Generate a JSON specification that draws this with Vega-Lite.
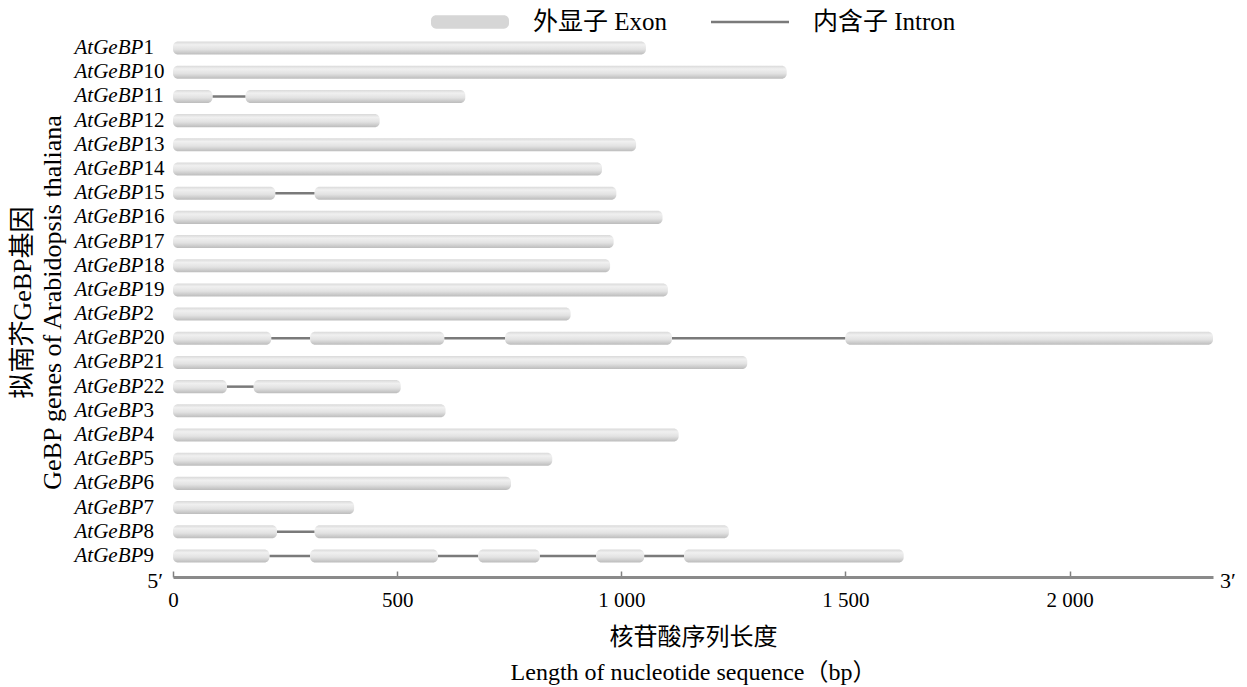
{
  "$schema": "https://vega.github.io/schema/vega-lite/v6.json",
  "width": 1040,
  "height": 550,
  "autosize": {"type": "none"},
  "padding": {"left": 173, "top": 27, "right": 34, "bottom": 110},
  "background": "white",
  "config": {"view": {"stroke": null}},
  "datasets": {
    "segments": [
      {"gene": "AtGeBP1", "type": "exon", "start": 0, "end": 1055},
      {"gene": "AtGeBP10", "type": "exon", "start": 0, "end": 1369},
      {"gene": "AtGeBP11", "type": "exon", "start": 0, "end": 88},
      {"gene": "AtGeBP11", "type": "intron", "start": 88, "end": 162},
      {"gene": "AtGeBP11", "type": "exon", "start": 162, "end": 652},
      {"gene": "AtGeBP12", "type": "exon", "start": 0, "end": 461},
      {"gene": "AtGeBP13", "type": "exon", "start": 0, "end": 1033},
      {"gene": "AtGeBP14", "type": "exon", "start": 0, "end": 957},
      {"gene": "AtGeBP15", "type": "exon", "start": 0, "end": 228},
      {"gene": "AtGeBP15", "type": "intron", "start": 228, "end": 316},
      {"gene": "AtGeBP15", "type": "exon", "start": 316, "end": 989},
      {"gene": "AtGeBP16", "type": "exon", "start": 0, "end": 1092},
      {"gene": "AtGeBP17", "type": "exon", "start": 0, "end": 983},
      {"gene": "AtGeBP18", "type": "exon", "start": 0, "end": 975},
      {"gene": "AtGeBP19", "type": "exon", "start": 0, "end": 1104},
      {"gene": "AtGeBP2", "type": "exon", "start": 0, "end": 887},
      {"gene": "AtGeBP20", "type": "exon", "start": 0, "end": 219},
      {"gene": "AtGeBP20", "type": "intron", "start": 219, "end": 306},
      {"gene": "AtGeBP20", "type": "exon", "start": 306, "end": 605},
      {"gene": "AtGeBP20", "type": "intron", "start": 605, "end": 741},
      {"gene": "AtGeBP20", "type": "exon", "start": 741, "end": 1113},
      {"gene": "AtGeBP20", "type": "intron", "start": 1113, "end": 1500},
      {"gene": "AtGeBP20", "type": "exon", "start": 1500, "end": 2320},
      {"gene": "AtGeBP21", "type": "exon", "start": 0, "end": 1281},
      {"gene": "AtGeBP22", "type": "exon", "start": 0, "end": 120},
      {"gene": "AtGeBP22", "type": "intron", "start": 120, "end": 180},
      {"gene": "AtGeBP22", "type": "exon", "start": 180, "end": 508},
      {"gene": "AtGeBP3", "type": "exon", "start": 0, "end": 608},
      {"gene": "AtGeBP4", "type": "exon", "start": 0, "end": 1128},
      {"gene": "AtGeBP5", "type": "exon", "start": 0, "end": 846},
      {"gene": "AtGeBP6", "type": "exon", "start": 0, "end": 754},
      {"gene": "AtGeBP7", "type": "exon", "start": 0, "end": 404},
      {"gene": "AtGeBP8", "type": "exon", "start": 0, "end": 232},
      {"gene": "AtGeBP8", "type": "intron", "start": 232, "end": 316},
      {"gene": "AtGeBP8", "type": "exon", "start": 316, "end": 1240},
      {"gene": "AtGeBP9", "type": "exon", "start": 0, "end": 215},
      {"gene": "AtGeBP9", "type": "intron", "start": 215, "end": 306},
      {"gene": "AtGeBP9", "type": "exon", "start": 306, "end": 591},
      {"gene": "AtGeBP9", "type": "intron", "start": 591, "end": 681},
      {"gene": "AtGeBP9", "type": "exon", "start": 681, "end": 818},
      {"gene": "AtGeBP9", "type": "intron", "start": 818, "end": 944},
      {"gene": "AtGeBP9", "type": "exon", "start": 944, "end": 1051},
      {"gene": "AtGeBP9", "type": "intron", "start": 1051, "end": 1140},
      {"gene": "AtGeBP9", "type": "exon", "start": 1140, "end": 1630}
    ],
    "ends": [
      {"label": "5′", "pos": -40},
      {"label": "3′", "pos": 2353}
    ]
  },
  "layer": [
    {
      "data": {"name": "segments"},
      "transform": [{"filter": "datum.type === 'intron'"}],
      "mark": {"type": "rule", "strokeWidth": 2.5},
      "encoding": {
        "y": {
          "field": "gene", "type": "nominal",
          "scale": {
            "type": "band",
            "domain": ["AtGeBP1","AtGeBP10","AtGeBP11","AtGeBP12","AtGeBP13","AtGeBP14","AtGeBP15","AtGeBP16","AtGeBP17","AtGeBP18","AtGeBP19","AtGeBP2","AtGeBP20","AtGeBP21","AtGeBP22","AtGeBP3","AtGeBP4","AtGeBP5","AtGeBP6","AtGeBP7","AtGeBP8","AtGeBP9"],
            "paddingInner": 0.46, "paddingOuter": 0.6
          },
          "axis": {
            "orient": "left",
            "labelExpr": "'AtGeBP'",
            "labelFont": "Liberation Serif",
            "labelFontStyle": "italic",
            "labelFontSize": 21,
            "labelColor": "black",
            "labelAlign": "left",
            "labelPadding": 99,
            "labelOverlap": false,
            "ticks": false,
            "tickSize": 0,
            "domain": false,
            "title": ["拟南芥GeBP基因", "GeBP genes of Arabidopsis thaliana"],
            "titleFont": "Liberation Serif, Noto Sans CJK SC",
            "titleFontSize": 26,
            "titleFontWeight": "normal",
            "titleColor": "black",
            "titleLineHeight": 30,
            "titlePadding": 9
          }
        },
        "x": {
          "field": "start", "type": "quantitative",
          "scale": {"domain": [0, 2320], "nice": false, "zero": false},
          "axis": {
            "values": [0, 500, 1000, 1500, 2000],
            "labelExpr": "datum.value >= 1000 ? floor(datum.value / 1000) + ' ' + substring(format(datum.value, 'd'), 1) : datum.label",
            "labelFont": "Liberation Serif",
            "labelFontSize": 21,
            "labelColor": "black",
            "labelFlush": false,
            "labelPadding": 18,
            "tickSize": -6,
            "tickColor": "#808080",
            "tickWidth": 1.5,
            "domainColor": "#8a8a8a",
            "domainWidth": 3,
            "grid": false,
            "title": ["核苷酸序列长度", "Length  of nucleotide sequence（bp）"],
            "titleFont": "Liberation Serif, Noto Sans CJK SC",
            "titleFontSize": 24,
            "titleFontWeight": "normal",
            "titleColor": "black",
            "titleLineHeight": 35,
            "titlePadding": 15
          }
        },
        "x2": {"field": "end"},
        "color": {
          "field": "type", "type": "nominal",
          "scale": {"domain": ["exon", "intron"], "range": ["#d6d6d6", "#7a7a7a"]},
          "legend": {
            "orient": "none",
            "legendX": 258,
            "legendY": -44,
            "direction": "horizontal",
            "title": null,
            "symbolSize": 6084,
            "labelOffset": 24,
            "columnPadding": 43,
            "labelFont": "Liberation Serif, Noto Sans CJK SC",
            "labelFontSize": 25,
            "labelColor": "black",
            "labelExpr": "datum.value === 'exon' ? '外显子 Exon' : '内含子 Intron'",
            "encode": {
              "symbols": {
                "update": {
                  "shape": {"signal": "datum.value === 'exon' ? 'M-0.87,-0.17 L0.87,-0.17 A0.13,0.13 0 0 1 1,-0.04 L1,0.04 A0.13,0.13 0 0 1 0.87,0.17 L-0.87,0.17 A0.13,0.13 0 0 1 -1,0.04 L-1,-0.04 A0.13,0.13 0 0 1 -0.87,-0.17 Z' : 'M-1,-0.03 L1,-0.03 L1,0.03 L-1,0.03 Z'"},
                  "fill": {"signal": "datum.value === 'exon' ? '#d6d6d6' : '#7a7a7a'"},
                  "stroke": {"value": "transparent"},
                  "strokeWidth": {"value": 0},
                  "opacity": {"value": 1}
                }
              }
            }
          }
        }
      }
    },
    {
      "data": {"name": "segments"},
      "transform": [{"filter": "datum.type === 'exon'"}],
      "mark": {
        "type": "bar",
        "cornerRadius": 5,
        "color": {
          "gradient": "linear", "x1": 0, "y1": 0, "x2": 0, "y2": 1,
          "stops": [
            {"offset": 0, "color": "#d9d9d9"},
            {"offset": 0.25, "color": "#f0f0f0"},
            {"offset": 0.6, "color": "#e2e2e2"},
            {"offset": 1, "color": "#bcbcbc"}
          ]
        }
      },
      "encoding": {
        "y": {
          "field": "gene", "type": "nominal",
          "axis": {
            "orient": "left",
            "labelExpr": "replace(datum.value, 'AtGeBP', '')",
            "labelFont": "Liberation Serif",
            "labelFontSize": 21,
            "labelColor": "black",
            "labelAlign": "left",
            "labelPadding": 30,
            "labelOverlap": false,
            "ticks": false,
            "tickSize": 0,
            "domain": false,
            "title": null
          }
        },
        "x": {"field": "start", "type": "quantitative"},
        "x2": {"field": "end"}
      }
    },
    {
      "data": {"name": "ends"},
      "mark": {"type": "text", "font": "Liberation Serif", "fontSize": 22, "baseline": "middle", "align": "center", "color": "black", "dy": 4},
      "encoding": {
        "x": {"field": "pos", "type": "quantitative"},
        "y": {"value": "height"},
        "text": {"field": "label"}
      }
    }
  ],
  "resolve": {"axis": {"y": "independent"}}
}
